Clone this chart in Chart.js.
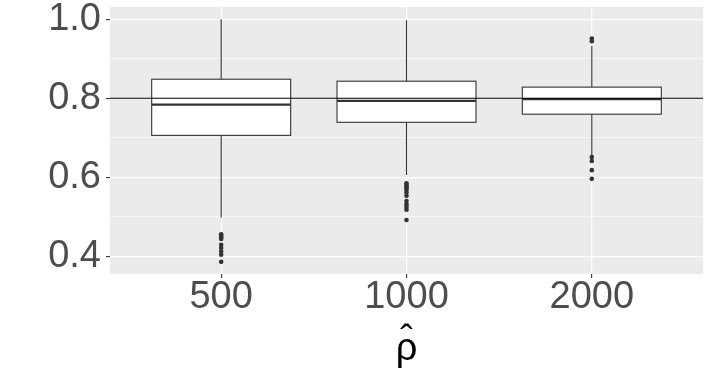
<!DOCTYPE html>
<html><head><meta charset="utf-8">
<script src="https://cdn.jsdelivr.net/npm/chart.js@4"></script>
<style>html,body{margin:0;padding:0;background:#fff}#wrap{width:711px;height:384px;position:relative}</style>
</head><body><div id="wrap"><canvas id="c" width="711" height="384"></canvas></div>
<script>
// ---- data ----
const categories = ['500', '1000', '2000'];
const q1 = [0.706, 0.739, 0.7595];
const median = [0.784, 0.793, 0.7975];
const q3 = [0.848, 0.843, 0.828];
const whiskerLow = [0.498, 0.606, 0.656];
const whiskerHigh = [1.000, 0.997, 0.932];
const outliers500 = [0.456, 0.452, 0.448, 0.444, 0.429, 0.421, 0.412, 0.404, 0.386];
const outliers1000 = [0.585, 0.581, 0.577, 0.573, 0.569, 0.562, 0.553, 0.540, 0.532, 0.525, 0.518, 0.492];
const outliers2000 = [0.951, 0.944, 0.651, 0.641, 0.618, 0.596];
const yTickLabels = [0.4, 0.6, 0.8, 1.0];
const yMinorTicks = [0.5, 0.7, 0.9];
const refValue = 0.8;
const xTitle = ['ˆ', 'ρ'];

const outlierSets = [outliers500, outliers1000, outliers2000];
const outlierPoints = [];
outlierSets.forEach((arr, i) => arr.forEach(v => outlierPoints.push({x: i + 1, y: v})));

const FONT = '"Liberation Sans", Arial, sans-serif';

const panelBg = {
  id: 'panelBg',
  beforeDraw(chart) {
    const {ctx, chartArea: a} = chart;
    ctx.save();
    ctx.fillStyle = '#EBEBEB';
    ctx.fillRect(a.left, a.top, a.right - a.left, a.bottom - a.top);
    ctx.restore();
  }
};

const boxPlugin = {
  id: 'boxes',
  beforeDatasetsDraw(chart) {
    const {ctx, chartArea: a} = chart;
    const xs = chart.scales.x, ys = chart.scales.y;
    ctx.save();
    ctx.beginPath();
    ctx.rect(a.left, a.top, a.right - a.left, a.bottom - a.top);
    ctx.clip();
    ctx.strokeStyle = '#333333';
    categories.forEach((c, i) => {
      const xc = xs.getPixelForValue(i + 1);
      const xl = xs.getPixelForValue(i + 1 - 0.375);
      const xr = xs.getPixelForValue(i + 1 + 0.375);
      const yq1 = ys.getPixelForValue(q1[i]);
      const yq3 = ys.getPixelForValue(q3[i]);
      const ymed = ys.getPixelForValue(median[i]);
      const ylo = ys.getPixelForValue(whiskerLow[i]);
      const yhi = ys.getPixelForValue(whiskerHigh[i]);
      ctx.lineWidth = 1.1;
      ctx.beginPath();
      ctx.moveTo(xc, yhi); ctx.lineTo(xc, yq3);
      ctx.moveTo(xc, yq1); ctx.lineTo(xc, ylo);
      ctx.stroke();
      ctx.fillStyle = '#FFFFFF';
      ctx.fillRect(xl, yq3, xr - xl, yq1 - yq3);
      ctx.strokeRect(xl, yq3, xr - xl, yq1 - yq3);
      ctx.lineWidth = 2.2;
      ctx.beginPath();
      ctx.moveTo(xl, ymed); ctx.lineTo(xr, ymed);
      ctx.stroke();
    });
    // reference line
    const yr = ys.getPixelForValue(refValue);
    ctx.strokeStyle = '#000000';
    ctx.lineWidth = 1.1;
    ctx.beginPath();
    ctx.moveTo(a.left, yr); ctx.lineTo(a.right, yr);
    ctx.stroke();
    ctx.restore();
  }
};

const isMajorY = v => yTickLabels.some(t => Math.abs(t - v) < 1e-9);

new Chart(document.getElementById('c'), {
  type: 'scatter',
  data: {
    datasets: [{
      data: outlierPoints,
      pointRadius: 2.3,
      pointBackgroundColor: '#333333',
      pointBorderColor: '#333333',
      pointBorderWidth: 0,
      pointHoverRadius: 2.3
    }]
  },
  options: {
    responsive: false,
    animation: false,
    devicePixelRatio: 1,
    layout: {padding: {top: 7, right: 8, left: 0, bottom: 0}},
    plugins: {legend: {display: false}, tooltip: {enabled: false}},
    scales: {
      x: {
        type: 'linear',
        min: 0.4, max: 3.6,
        afterBuildTicks: s => { s.ticks = categories.map((c, i) => ({value: i + 1})); },
        afterFit: s => { s.height = 110; s.paddingLeft = 0; s.paddingRight = 0; },
        border: {display: false},
        grid: {color: '#FFFFFF', lineWidth: 1.2, tickColor: '#333333', tickLength: 4, tickWidth: 1.1},
        ticks: {
          callback: v => categories[Math.round(v) - 1],
          color: '#4D4D4D', font: {family: FONT, size: 38}, padding: -3, maxRotation: 0, autoSkip: false
        },
        title: {display: true, text: xTitle, color: '#000000', font: {family: FONT, size: 38, lineHeight: 0.2}, padding: {top: 0, bottom: 31}}
      },
      y: {
        type: 'linear',
        min: 0.3553, max: 1.0307,
        afterBuildTicks: s => {
          s.ticks = yTickLabels.concat(yMinorTicks).sort((a, b) => a - b).map(v => ({value: v}));
        },
        afterFit: s => { s.width = 110; s.paddingTop = 0; s.paddingBottom = 0; },
        border: {display: false},
        grid: {
          color: '#FFFFFF',
          lineWidth: c => isMajorY(c.tick.value) ? 1.2 : 0.6,
          tickColor: c => isMajorY(c.tick.value) ? '#333333' : 'rgba(0,0,0,0)',
          tickLength: 4, tickWidth: 1.1
        },
        ticks: {
          callback: v => isMajorY(v) ? v.toFixed(1) : '',
          color: '#4D4D4D', font: {family: FONT, size: 38}, padding: 5, autoSkip: false
        }
      }
    }
  },
  plugins: [panelBg, boxPlugin]
});
</script>
</body></html>
